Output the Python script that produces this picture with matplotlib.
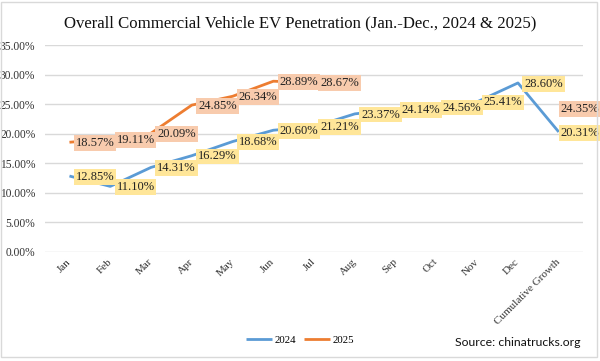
import matplotlib.pyplot as plt
import matplotlib.transforms as mtransforms
from matplotlib.patches import Rectangle
import numpy as np

categories = ['Jan', 'Feb', 'Mar', 'Apr', 'May', 'Jun', 'Jul', 'Aug', 'Sep',
              'Oct', 'Nov', 'Dec', 'Cumulative Growth']
# penetration rate, %
ev_2024 = [12.85, 11.10, 14.31, 16.29, 18.68, 20.60, 21.21, 23.37, 24.14,
           24.56, 25.41, 28.60, 20.31]
ev_2025 = [18.57, 19.11, 20.09, 24.85, 26.34, 28.89, 28.67, None, None,
           None, None, None, 24.35]
y_ticks = [0, 5, 10, 15, 20, 25, 30, 35]

serif = 'Liberation Serif'
blue = '#5B9BD5'
orange = '#ED7D31'

fig = plt.figure(figsize=(6.0, 3.61), dpi=100)
ax = fig.add_axes([0.075, 0.302, 0.897, 0.573])

x = np.arange(len(categories))
y24 = np.array(ev_2024, dtype=float)
y25 = np.array([np.nan if v is None else v for v in ev_2025], dtype=float)

ax.plot(x, y24, color=blue, lw=2.0, solid_capstyle='butt', label='2024', zorder=3)
ax.plot(x, y25, color=orange, lw=2.0, solid_capstyle='butt', label='2025', zorder=3)

# data labels, placed right of the point like Excel does
# (the last column is pulled in so it stays inside the chart)
def add_labels(vals, face):
    for xi, v in zip(x, vals):
        if np.isnan(v):
            continue
        dx = 4.5 if xi < len(x) - 1 else 1.5
        ax.annotate('{:.2f}%'.format(v), (xi, v), xytext=(dx, -0.5),
                    textcoords='offset points', ha='left', va='center',
                    fontsize=9, family=serif, color='#222222', zorder=5,
                    bbox=dict(boxstyle='square,pad=0.15', fc=face, ec='none'))

add_labels(y24, '#FFE699')
add_labels(y25, '#F8CBAD')

ax.set_xlim(-0.6, 12.6)
ax.set_ylim(0, 35)
ax.set_yticks(y_ticks)
ax.set_yticklabels(['{:.2f}%'.format(t) for t in y_ticks], family=serif, fontsize=8.3)
ax.set_xticks(x)
ax.set_xticklabels(categories, family=serif, fontsize=8, rotation=45,
                   ha='right', va='center', rotation_mode='anchor')
offset = mtransforms.ScaledTranslation(10 / 100, 0, fig.dpi_scale_trans)
for lab in ax.get_xticklabels():
    lab.set_transform(lab.get_transform() + offset)

ax.tick_params(axis='both', length=0, colors='#333333')
ax.tick_params(axis='y', pad=7)
ax.tick_params(axis='x', pad=6)
ax.grid(axis='y', color='#D9D9D9', lw=1.0)
ax.set_axisbelow(True)
for s in ax.spines.values():
    s.set_visible(False)

fig.text(0.5, 0.935, 'Overall Commercial Vehicle EV Penetration (Jan.-Dec., 2024 & 2025)',
         ha='center', va='center', family=serif, fontsize=12.1, color='#111111')

fig.legend(loc='center', bbox_to_anchor=(0.5, 0.058), ncol=2, frameon=False,
           prop={'family': serif, 'size': 7.8}, handlelength=2.4,
           handletextpad=0.2, columnspacing=0.8)

fig.text(0.967, 0.052, 'Source: chinatrucks.org', ha='right', va='center',
         family='Lato', fontsize=8.8, color='#111111')

# light frame round the chart
fig.patches.append(Rectangle((0.002, 0.01), 0.993, 0.985, transform=fig.transFigure,
                             fill=False, ec='#D9D9D9', lw=1.0))

fig.savefig('out.png', dpi=100, facecolor='white')
